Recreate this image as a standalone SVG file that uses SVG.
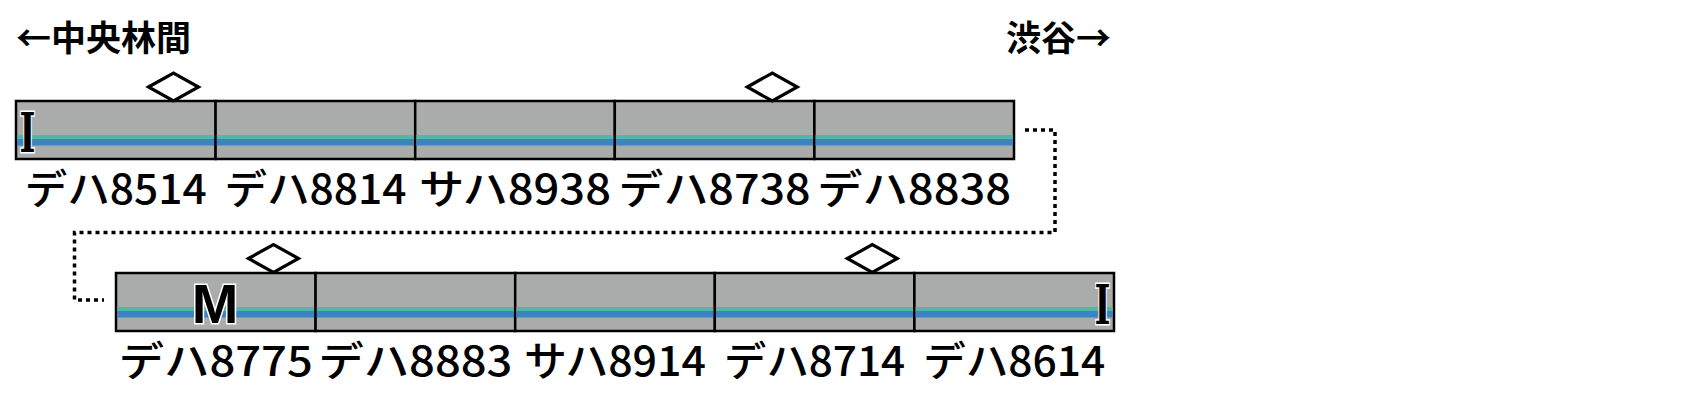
<svg xmlns="http://www.w3.org/2000/svg" width="1700" height="408" viewBox="0 0 1700 408">
<style>
.body{fill:#aaacab;stroke:#000;stroke-width:2.5}
.teal{fill:#52b7a5}
.blue{fill:#3b83c3}
.lbl{font-family:"Noto Sans CJK JP","Noto Sans",sans-serif;font-size:41px;font-weight:500;fill:#000;text-anchor:middle}
.hdr{font-family:"Noto Sans CJK JP",sans-serif;font-size:35px;font-weight:700;fill:#000}
.dia{fill:#fff;stroke:#000;stroke-width:3.2;stroke-linejoin:miter}
.imark{font-family:"DejaVu Serif","Liberation Serif",serif;font-weight:700;font-size:55px;fill:#000;stroke:#fff;stroke-width:3;paint-order:stroke;text-anchor:middle}
.mmark{font-family:"Liberation Sans",sans-serif;font-weight:700;font-size:56px;fill:#000;stroke:#fff;stroke-width:3;paint-order:stroke;text-anchor:middle}
.conn{fill:none;stroke:#000;stroke-width:3.5;stroke-dasharray:4 4}
</style>
<rect width="1700" height="408" fill="#fff"/>
<g id="header">
<text class="hdr" x="16" y="50.5">←中央林間</text>
<text class="hdr" x="1006" y="50.5">渋谷→</text>
</g>
<g id="connectors">
<path class="conn" d="M1025,130 H1055 V232.5 H74.5 V300 H104"/>
</g>
<g id="car-8514">
<rect class="body" x="16" y="101" width="199.6" height="58"/>
<rect class="teal" x="17.25" y="135" width="197.1" height="4"/>
<rect class="blue" x="17.25" y="139" width="197.1" height="6.5"/>
<polygon class="dia" points="148.5,87 173.5,73 198.5,87 173.5,101"/>
<text class="imark" transform="matrix(0.62 0 0 1 27.5 151.5)" x="0" y="0">I</text>
<text class="lbl" x="115.8" y="203.5" textLength="182" lengthAdjust="spacingAndGlyphs">デハ8514</text>
</g>
<g id="car-8814">
<rect class="body" x="215.6" y="101" width="199.6" height="58"/>
<rect class="teal" x="216.85" y="135" width="197.1" height="4"/>
<rect class="blue" x="216.85" y="139" width="197.1" height="6.5"/>
<text class="lbl" x="315.4" y="203.5" textLength="182" lengthAdjust="spacingAndGlyphs">デハ8814</text>
</g>
<g id="car-8938">
<rect class="body" x="415.2" y="101" width="199.6" height="58"/>
<rect class="teal" x="416.45" y="135" width="197.1" height="4"/>
<rect class="blue" x="416.45" y="139" width="197.1" height="6.5"/>
<text class="lbl" x="515" y="203.5" textLength="192" lengthAdjust="spacingAndGlyphs">サハ8938</text>
</g>
<g id="car-8738">
<rect class="body" x="614.8" y="101" width="199.6" height="58"/>
<rect class="teal" x="616.05" y="135" width="197.1" height="4"/>
<rect class="blue" x="616.05" y="139" width="197.1" height="6.5"/>
<polygon class="dia" points="747.3,87 772.3,73 797.3,87 772.3,101"/>
<text class="lbl" x="714.6" y="203.5" textLength="192" lengthAdjust="spacingAndGlyphs">デハ8738</text>
</g>
<g id="car-8838">
<rect class="body" x="814.4" y="101" width="199.6" height="58"/>
<rect class="teal" x="815.65" y="135" width="197.1" height="4"/>
<rect class="blue" x="815.65" y="139" width="197.1" height="6.5"/>
<text class="lbl" x="914.2" y="203.5" textLength="194" lengthAdjust="spacingAndGlyphs">デハ8838</text>
</g>
<g id="car-8775">
<rect class="body" x="116" y="273" width="199.6" height="58"/>
<rect class="teal" x="117.25" y="307" width="197.1" height="4"/>
<rect class="blue" x="117.25" y="311" width="197.1" height="6.5"/>
<polygon class="dia" points="248.5,258.5 273.5,244.5 298.5,258.5 273.5,272.5"/>
<text class="mmark" x="215" y="323">M</text>
<text class="lbl" x="215.8" y="376" textLength="194" lengthAdjust="spacingAndGlyphs">デハ8775</text>
</g>
<g id="car-8883">
<rect class="body" x="315.6" y="273" width="199.6" height="58"/>
<rect class="teal" x="316.85" y="307" width="197.1" height="4"/>
<rect class="blue" x="316.85" y="311" width="197.1" height="6.5"/>
<text class="lbl" x="415.4" y="376" textLength="194" lengthAdjust="spacingAndGlyphs">デハ8883</text>
</g>
<g id="car-8914">
<rect class="body" x="515.2" y="273" width="199.6" height="58"/>
<rect class="teal" x="516.45" y="307" width="197.1" height="4"/>
<rect class="blue" x="516.45" y="311" width="197.1" height="6.5"/>
<text class="lbl" x="615" y="376" textLength="182" lengthAdjust="spacingAndGlyphs">サハ8914</text>
</g>
<g id="car-8714">
<rect class="body" x="714.8" y="273" width="199.6" height="58"/>
<rect class="teal" x="716.05" y="307" width="197.1" height="4"/>
<rect class="blue" x="716.05" y="311" width="197.1" height="6.5"/>
<polygon class="dia" points="847.3,258.5 872.3,244.5 897.3,258.5 872.3,272.5"/>
<text class="lbl" x="814.6" y="376" textLength="181" lengthAdjust="spacingAndGlyphs">デハ8714</text>
</g>
<g id="car-8614">
<rect class="body" x="914.4" y="273" width="199.6" height="58"/>
<rect class="teal" x="915.65" y="307" width="197.1" height="4"/>
<rect class="blue" x="915.65" y="311" width="197.1" height="6.5"/>
<text class="imark" transform="matrix(0.62 0 0 1 1102.5 323.5)" x="0" y="0">I</text>
<text class="lbl" x="1014.2" y="376" textLength="182" lengthAdjust="spacingAndGlyphs">デハ8614</text>
</g>
</svg>
